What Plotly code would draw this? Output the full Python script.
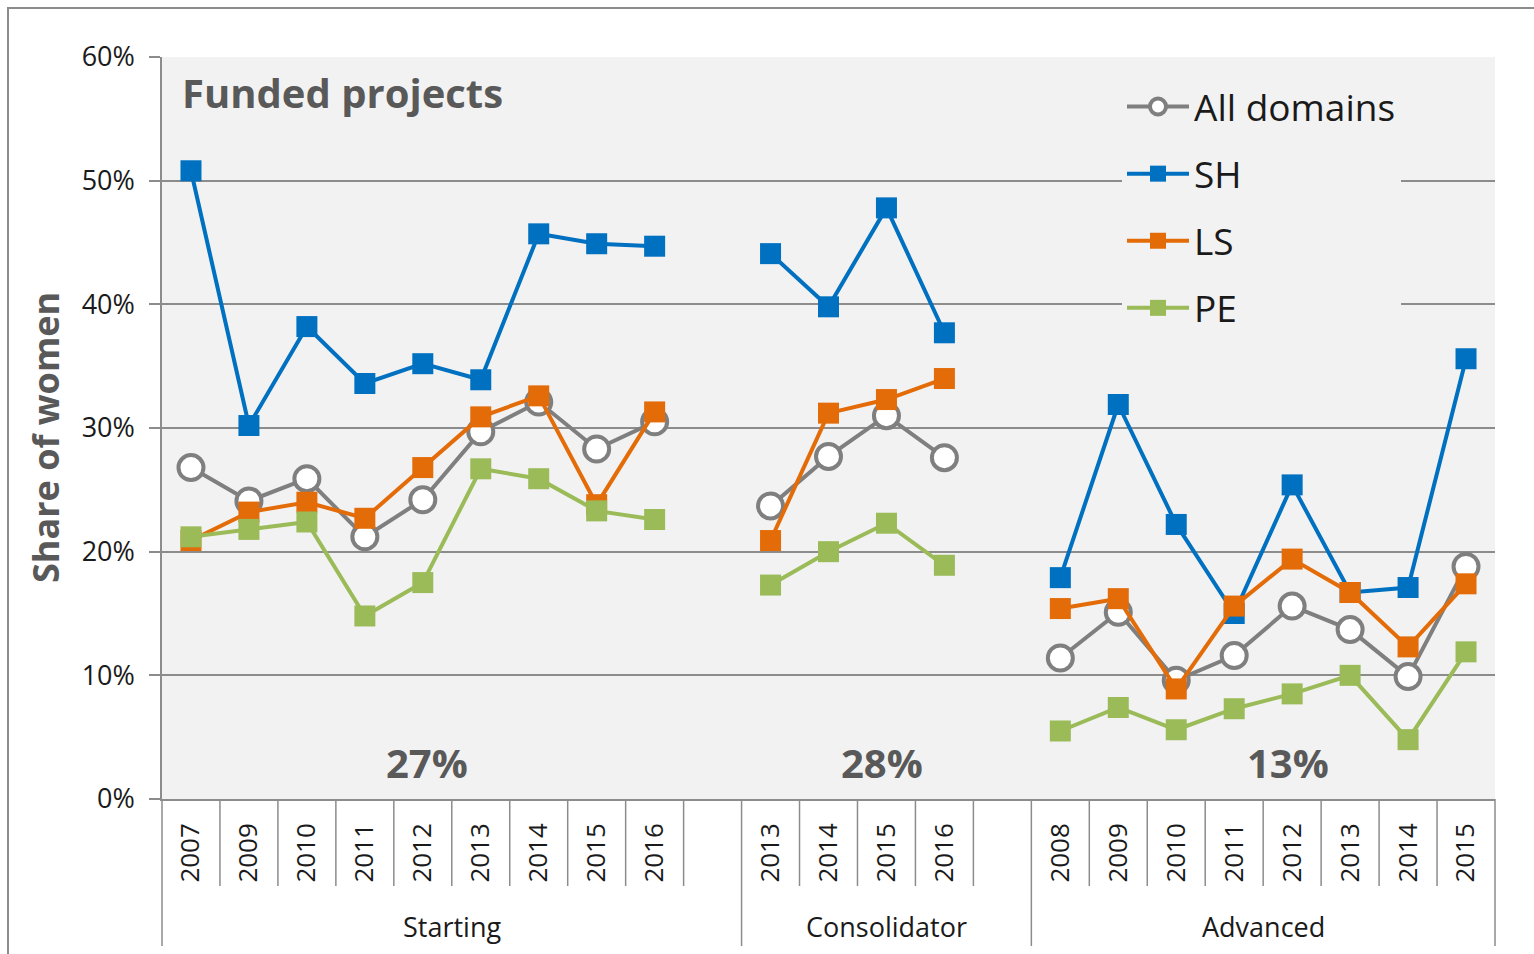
import plotly.graph_objects as go

# ---------------- data ----------------
groups = ["Starting", "Consolidator", "Advanced"]
starting_years = ["2007", "2009", "2010", "2011", "2012", "2013", "2014", "2015", "2016"]
consolidator_years = ["2013", "2014", "2015", "2016"]
advanced_years = ["2008", "2009", "2010", "2011", "2012", "2013", "2014", "2015"]
group_years = [starting_years, consolidator_years, advanced_years]
group_totals = ["27%", "28%", "13%"]

all_domains = [
    [0.268, 0.241, 0.259, 0.212, 0.242, 0.297, 0.321, 0.283, 0.305],
    [0.237, 0.277, 0.310, 0.276],
    [0.114, 0.151, 0.096, 0.116, 0.156, 0.137, 0.099, 0.188],
]
sh = [
    [0.508, 0.302, 0.382, 0.336, 0.352, 0.339, 0.457, 0.449, 0.447],
    [0.441, 0.398, 0.478, 0.377],
    [0.179, 0.319, 0.222, 0.150, 0.254, 0.167, 0.171, 0.356],
]
ls = [
    [0.209, 0.232, 0.240, 0.227, 0.268, 0.309, 0.326, 0.238, 0.313],
    [0.209, 0.312, 0.323, 0.340],
    [0.154, 0.162, 0.089, 0.156, 0.194, 0.167, 0.123, 0.174],
]
pe = [
    [0.212, 0.218, 0.224, 0.148, 0.175, 0.267, 0.259, 0.233, 0.226],
    [0.173, 0.200, 0.223, 0.189],
    [0.055, 0.074, 0.056, 0.073, 0.085, 0.100, 0.048, 0.119],
]

series_names = ["All domains", "SH", "LS", "PE"]
series_values = [all_domains, sh, ls, pe]
series_colors = ["#7F7F7F", "#0070C0", "#E36C09", "#9BBB59"]

# ---------------- slots (categories incl. blank spacer slots) ----------------
slots = []  # (group index, year or None)
for gi, yrs in enumerate(group_years):
    for y in yrs:
        slots.append((gi, y))
    if gi < len(group_years) - 1:
        slots.append((gi, None))
n_slots = len(slots)
xpos = list(range(n_slots))


def flatten(vals):
    out = []
    for gi, yrs in enumerate(group_years):
        out.extend(vals[gi])
        if gi < len(group_years) - 1:
            out.append(None)
    return out


TEXT_GRAY = "#595959"
GRID = "#8C8C8C"
FONT = "Open Sans"

fig = go.Figure()
for name, vals, col in zip(series_names, series_values, series_colors):
    if name == "All domains":
        marker = dict(symbol="circle", size=25, color="white", line=dict(color=col, width=4))
    else:
        marker = dict(symbol="square", size=21, color=col, line=dict(width=0))
    fig.add_trace(go.Scatter(
        x=xpos, y=flatten(vals), name=name, mode="lines+markers",
        line=dict(color=col, width=4), marker=marker,
        connectgaps=False, legendgroup=name, cliponaxis=False,
    ))

tickvals = [i for i, (g, y) in enumerate(slots) if y is not None]
ticktext = [y for (g, y) in slots if y is not None]

# plot area geometry in pixels (for paper conversions)
W, H = 1534, 954
ML, MR, MT, MB = 162, 39, 57, 155
PW, PH = W - ML - MR, H - MT - MB


def px_to_paper_y(py):
    return (H - MB - py) / PH


def px_to_paper_x(px):
    return (px - ML) / PW


shapes = []
group_starts = []
for i, (g, y) in enumerate(slots):
    if i == 0 or slots[i - 1][0] != g:
        group_starts.append(i)
long_bounds = set(group_starts + [n_slots])
short_y = px_to_paper_y(886)
long_y = px_to_paper_y(946)
for k in range(n_slots + 1):
    xp = k / n_slots
    y1 = long_y if k in long_bounds else short_y
    shapes.append(dict(type="line", xref="paper", yref="paper", x0=xp, x1=xp, y0=0, y1=y1,
                       line=dict(color=GRID, width=1.5), layer="above"))
# outer chart frame
shapes.append(dict(type="rect", xref="paper", yref="paper",
                   x0=px_to_paper_x(8), x1=px_to_paper_x(1545),
                   y0=px_to_paper_y(965), y1=px_to_paper_y(8),
                   line=dict(color="#8C8C8C", width=2), fillcolor="rgba(0,0,0,0)"))

annotations = []
bounds = group_starts + [n_slots]
for gi, g in enumerate(groups):
    c = (bounds[gi] + bounds[gi + 1]) / 2 - 0.5
    annotations.append(dict(x=c, xref="x", y=px_to_paper_y(926), yref="paper", text=g,
                            showarrow=False, xanchor="center", yanchor="middle",
                            font=dict(family=FONT, size=27, color="#1A1A1A")))
total_pos = [4.07, 11.92, 18.92]
for gi, t in enumerate(group_totals):
    annotations.append(dict(x=total_pos[gi], xref="x", y=px_to_paper_y(762), yref="paper",
                            text="<b>%s</b>" % t, showarrow=False, xanchor="center",
                            yanchor="middle", font=dict(family=FONT, size=40, color=TEXT_GRAY)))
annotations.append(dict(x=px_to_paper_x(180), xref="paper", y=px_to_paper_y(93), yref="paper",
                        text="<b>Funded projects</b>", showarrow=False, xanchor="left",
                        yanchor="middle", font=dict(family=FONT, size=40, color=TEXT_GRAY)))
annotations.append(dict(x=px_to_paper_x(45), xref="paper", y=px_to_paper_y(438), yref="paper",
                        text="<b>Share of women</b>", showarrow=False, textangle=-90,
                        xanchor="center", yanchor="middle",
                        font=dict(family=FONT, size=36, color=TEXT_GRAY)))

fig.update_layout(
    width=W, height=H,
    margin=dict(l=ML, r=MR, t=MT, b=MB, pad=0),
    paper_bgcolor="white", plot_bgcolor="#F2F2F2",
    font=dict(family=FONT, color="#1A1A1A"),
    xaxis=dict(range=[-0.5, n_slots - 0.5], tickvals=tickvals, ticktext=ticktext,
               tickangle=-90, ticks="", showgrid=False, zeroline=False,
               showline=True, linecolor=GRID, linewidth=1.5,
               tickfont=dict(family=FONT, size=26, color="#1A1A1A"),
               ticklabelstandoff=12, fixedrange=True),
    yaxis=dict(range=[0, 0.6], tickvals=[0, 0.1, 0.2, 0.3, 0.4, 0.5, 0.6], tickformat=".0%",
               showgrid=True, gridcolor=GRID, gridwidth=1.5, zeroline=False,
               showline=True, linecolor=GRID, linewidth=1.5,
               ticks="outside", ticklen=11, tickwidth=1.5, tickcolor=GRID,
               tickfont=dict(family=FONT, size=27, color="#1A1A1A"),
               ticklabelstandoff=9, fixedrange=True),
    showlegend=True,
    legend=dict(x=px_to_paper_x(1122), y=px_to_paper_y(76), xanchor="left", yanchor="top",
                bgcolor="#F2F2F2", borderwidth=0, tracegroupgap=16,
                font=dict(family=FONT, size=37, color="#1A1A1A"), itemwidth=62),
    shapes=shapes, annotations=annotations,
)

fig.write_html("out.html", post_script="document.body.style.margin='0';",
               config={"displayModeBar": False})
